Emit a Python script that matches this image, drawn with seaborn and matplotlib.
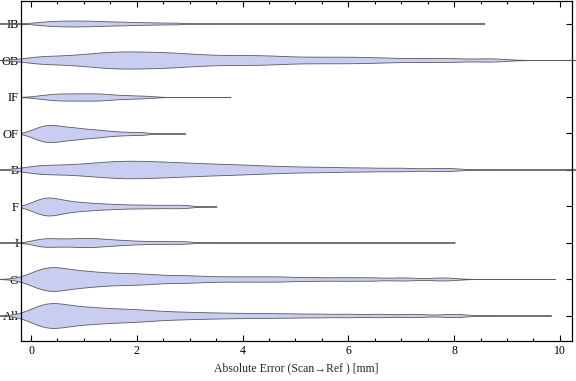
import numpy as np
import pandas as pd
import seaborn as sns
import matplotlib.pyplot as plt
from matplotlib.ticker import MultipleLocator

# categories, top to bottom
cats = ["IB", "OB", "IF", "OF", "B", "F", "I", "O", "All"]

# bulk of the absolute errors (mm)
err_IB = [0.15, 0.34, 0.46, 0.58, 0.70, 0.82, 0.94, 1.06, 1.18, 1.31, 1.48, 1.65,
          1.83, 2.08, 2.37, 2.75]
err_OB = [0.05, 0.28, 0.58, 0.82, 1.03, 1.20, 1.36, 1.50, 1.63, 1.76, 1.89, 2.02,
          2.16, 2.30, 2.44, 2.58, 2.73, 2.89, 3.07, 3.27, 3.48, 3.72, 3.95, 4.18,
          4.42, 4.65, 4.97, 5.32, 5.67, 6.02, 6.37, 6.81, 7.39, 7.97, 8.70]
err_IF = [0.15, 0.34, 0.45, 0.56, 0.66, 0.77, 0.88, 0.99, 1.09, 1.20, 1.30, 1.41,
          1.53, 1.73, 1.92, 2.20]
err_OF = [0.00, 0.10, 0.16, 0.22, 0.27, 0.31, 0.36, 0.41, 0.46, 0.51, 0.56, 0.63,
          0.70, 0.76, 0.83, 0.90, 0.98, 1.08, 1.18, 1.27, 1.41, 1.57, 1.80, 2.08]
err_B = [0.05, 0.22, 0.48, 0.74, 0.95, 1.14, 1.31, 1.46, 1.60, 1.73, 1.86, 1.99,
         2.12, 2.26, 2.40, 2.55, 2.70, 2.86, 3.03, 3.21, 3.40, 3.60, 3.82, 4.05,
         4.30, 4.60, 4.95, 5.35, 5.80, 6.35, 7.00, 7.80]
err_F = [0.00, 0.10, 0.16, 0.22, 0.27, 0.31, 0.36, 0.41, 0.47, 0.53, 0.60, 0.68,
         0.77, 0.87, 0.98, 1.10, 1.24, 1.40, 1.58, 1.80, 2.05, 2.32, 2.62, 2.90]
err_I = [0.10, 0.20, 0.30, 0.40, 0.52, 0.64, 0.76, 0.88, 0.98, 1.08, 1.18, 1.29,
         1.41, 1.55, 1.72, 1.92, 2.20, 2.55, 2.90]
err_O = [0.02, 0.12, 0.20, 0.27, 0.33, 0.39, 0.45, 0.52, 0.60, 0.69, 0.79, 0.89,
         1.00, 1.11, 1.22, 1.35, 1.50, 1.65, 1.80, 1.95, 2.11, 2.27, 2.49, 2.72,
         2.96, 3.19, 3.53, 3.87, 4.22, 4.56, 4.91, 5.39, 5.91, 6.42, 7.05, 7.80]
err_All = [0.02, 0.12, 0.20, 0.27, 0.33, 0.39, 0.46, 0.53, 0.61, 0.70, 0.80, 0.90,
           1.01, 1.12, 1.23, 1.35, 1.48, 1.62, 1.76, 1.90, 2.05, 2.21, 2.40, 2.62,
           2.86, 3.12, 3.42, 3.75, 4.12, 4.52, 4.95, 5.45, 6.00, 6.60, 7.25, 8.00]

# largest error in each group (end of the thin tail)
err_max = [8.58, 10.9, 3.77, 2.92, 10.9, 3.51, 8.02, 9.92, 9.85]

values = {"IB": err_IB, "OB": err_OB, "IF": err_IF, "OF": err_OF, "B": err_B,
          "F": err_F, "I": err_I, "O": err_O, "All": err_All}

# violin width, kde bandwidth (mm), tail runs past the frame?
style = {"IB": (0.16, 0.20, True), "OB": (0.47, 0.30, True), "IF": (0.20, 0.17, False),
         "OF": (0.47, 0.14, False), "B": (0.48, 0.30, True), "F": (0.49, 0.16, False),
         "I": (0.25, 0.17, True), "O": (0.65, 0.25, True), "All": (0.68, 0.25, True)}

fill = "#c9cdf2"
edge = "#5a5a5a"

sns.set_style("ticks")
plt.rcParams["font.family"] = ["Liberation Serif", "DejaVu Serif"]
plt.rcParams["font.size"] = 9

fig, ax = plt.subplots(figsize=(5.76, 3.81), dpi=100)
fig.subplots_adjust(left=20.7/576, right=572/576, top=1-1/381, bottom=1-341/381)

for cat, vmax in zip(cats, err_max):
    vals = np.array(values[cat])
    w, bw, free = style[cat]
    df = pd.DataFrame({"err": vals, "group": cat})
    n_before = len(ax.collections)
    sns.violinplot(data=df, x="err", y="group", order=cats, orient="h",
                   width=w, bw_method=bw / vals.std(ddof=1),
                   cut=(vmax - vals.max()) / bw, gridsize=600,
                   inner=None, color=fill, saturation=1, linecolor=edge,
                   linewidth=0.6, density_norm="width", ax=ax)
    if free:
        for c in ax.collections[n_before:]:
            c.set_clip_on(False)

ax.set_xlim(-0.195, 10.23)
ax.set_ylim(8.685, -0.63)
ax.xaxis.set_major_locator(MultipleLocator(2))
ax.xaxis.set_minor_locator(MultipleLocator(0.5))
ax.tick_params(which="both", direction="in", top=True, right=True, colors="black",
               labelsize=8.5, width=0.8)
ax.tick_params(which="major", length=4.5, pad=3)
ax.tick_params(which="minor", length=2.5)
ax.tick_params(axis="y", length=4, pad=1.5, labelsize=9)
for s in ax.spines.values():
    s.set_color("black")
    s.set_linewidth(0.9)

ax.set_ylabel("")
ax.set_xlabel("Absolute Error (Scan\u2192Ref ) [mm]", fontsize=8.5, labelpad=4)

plt.savefig("out.png", dpi=100)
